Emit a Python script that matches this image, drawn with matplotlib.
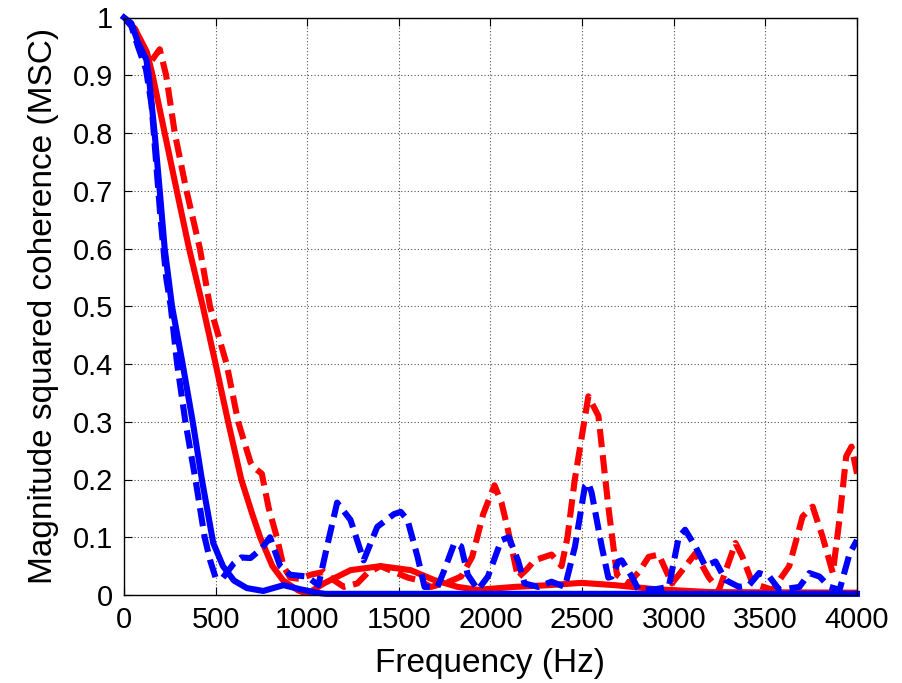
import matplotlib
matplotlib.use('Agg')
import matplotlib.pyplot as plt

# red solid
red_solid_f = [0, 60, 125, 156, 222, 288, 355, 430, 500, 568, 640, 700, 743, 810, 869, 950, 1000,
               1090, 1236, 1400, 1565, 1692, 1821, 1931, 2131, 2315, 2497, 2680, 2900, 3200, 4000]
red_solid_v = [1.0, 0.98, 0.94, 0.9, 0.8, 0.7, 0.6, 0.5, 0.4, 0.3, 0.2, 0.14, 0.1, 0.05, 0.025, 0.008, 0.002,
               0.02, 0.043, 0.05, 0.043, 0.026, 0.014, 0.009, 0.014, 0.017, 0.021, 0.017, 0.01, 0.005, 0.004]

# red dashed
red_dash_f = [0, 60, 120, 150, 195, 230, 277, 341, 414, 469, 560, 623, 690, 705, 752, 790, 834, 870, 907,
              960, 1017, 1090, 1143, 1200, 1273, 1328, 1400, 1473, 1550, 1602, 1675, 1766, 1840, 1900, 1960,
              2022, 2060, 2095, 2150, 2200, 2240, 2333, 2388, 2420, 2460, 2534, 2589, 2643, 2690, 2753, 2810,
              2863, 2918, 2990, 3062, 3118, 3192, 3247, 3337, 3375, 3430, 3540, 3630, 3703, 3758, 3813, 3868,
              3904, 3941, 3970, 4000]
red_dash_v = [1.0, 0.98, 0.94, 0.925, 0.945, 0.9, 0.8, 0.7, 0.6, 0.5, 0.4, 0.3, 0.23, 0.222, 0.21, 0.15, 0.1, 0.05, 0.03,
              0.028, 0.035, 0.04, 0.026, 0.014, 0.02, 0.038, 0.05, 0.04, 0.03, 0.026, 0.014, 0.022, 0.032, 0.066, 0.14,
              0.19, 0.16, 0.113, 0.03, 0.045, 0.06, 0.07, 0.05, 0.1, 0.2, 0.344, 0.31, 0.153, 0.035, 0.02, 0.04,
              0.066, 0.07, 0.02, 0.049, 0.072, 0.03, 0.009, 0.09, 0.066, 0.02, 0.009, 0.05, 0.136, 0.153, 0.1, 0.038,
              0.13, 0.24, 0.257, 0.21]

# blue solid
blue_solid_f = [0, 40, 76, 122, 135, 167, 195, 222, 262, 320, 375, 425, 487, 540, 600, 670, 760, 870, 962,
                1050, 1100, 4000]
blue_solid_v = [1.0, 0.99, 0.957, 0.927, 0.9, 0.8, 0.7, 0.6, 0.5, 0.4, 0.3, 0.2, 0.09, 0.05, 0.025, 0.012, 0.007,
                0.017, 0.01, 0.004, 0.002, 0.002]

# blue dashed
blue_dash_f = [0, 40, 76, 120, 150, 175, 200, 230, 255, 290, 335, 390, 440, 470, 500, 540, 600, 640, 690, 750,
               797, 852, 907, 998, 1061, 1108, 1163, 1236, 1308, 1382, 1473, 1510, 1547, 1602, 1640, 1711, 1748,
               1803, 1840, 1876, 1931, 1986, 2059, 2100, 2150, 2186, 2260, 2333, 2406, 2461, 2515, 2534, 2552,
               2607, 2643, 2662, 2698, 2716, 2771, 2808, 2900, 2973, 3027, 3062, 3118, 3172, 3228, 3282, 3356,
               3411, 3466, 3521, 3576, 3686, 3740, 3795, 3850, 3905, 3960, 4000]
blue_dash_v = [1.0, 0.985, 0.95, 0.91, 0.85, 0.75, 0.65, 0.55, 0.5, 0.4, 0.3, 0.2, 0.1, 0.06, 0.03, 0.03, 0.055,
               0.065, 0.064, 0.08, 0.1, 0.05, 0.035, 0.032, 0.017, 0.084, 0.16, 0.13, 0.06, 0.118, 0.14, 0.144, 0.13,
               0.066, 0.014, 0.014, 0.043, 0.09, 0.084, 0.035, 0.009, 0.032, 0.095, 0.1, 0.06, 0.02, 0.014, 0.023,
               0.014, 0.084, 0.188, 0.194, 0.177, 0.084, 0.03, 0.032, 0.058, 0.06, 0.032, 0.009, 0.01, 0.014, 0.1,
               0.113, 0.084, 0.05, 0.058, 0.026, 0.014, 0.017, 0.038, 0.032, 0.009, 0.014, 0.038, 0.032, 0.014,
               0.009, 0.072, 0.095]

x_ticks = [0, 500, 1000, 1500, 2000, 2500, 3000, 3500, 4000]
y_ticks = [0, 0.1, 0.2, 0.3, 0.4, 0.5, 0.6, 0.7, 0.8, 0.9, 1]
y_ticklabels = ['0', '0.1', '0.2', '0.3', '0.4', '0.5', '0.6', '0.7', '0.8', '0.9', '1']

plt.rcParams['font.family'] = ['Liberation Sans', 'DejaVu Sans']

fig = plt.figure(figsize=(9.03, 6.83), dpi=100)
ax = fig.add_axes([124.0 / 903, 88.0 / 683, 733.0 / 903, 577.5 / 683])

lw = 4.4
dash = (3.0, 1.3)
ax.plot(red_solid_f, red_solid_v, color='#ff0000', lw=lw, solid_joinstyle='round')
ax.plot(red_dash_f, red_dash_v, color='#ff0000', lw=lw, dashes=dash)
ax.plot(blue_solid_f, blue_solid_v, color='#0000ff', lw=lw, solid_joinstyle='round', clip_on=False)
ax.plot(blue_dash_f, blue_dash_v, color='#0000ff', lw=lw, dashes=dash)

ax.set_xlim(0, 4000)
ax.set_ylim(0, 1)
ax.set_xticks(x_ticks)
ax.set_yticks(y_ticks)
ax.set_yticklabels(y_ticklabels)
ax.tick_params(direction='in', top=True, right=True, length=6, width=0.8, labelsize=21, pad=8)
ax.grid(True, color='#555555', linestyle=(0, (1, 2)), linewidth=0.8)
for s in ax.spines.values():
    s.set_linewidth(1.0)

ax.set_xlabel('Frequency (Hz)', fontsize=24, labelpad=10)
ax.set_ylabel('Magnitude squared coherence (MSC)', fontsize=24, labelpad=10)

fig.savefig('out.png', dpi=100)
